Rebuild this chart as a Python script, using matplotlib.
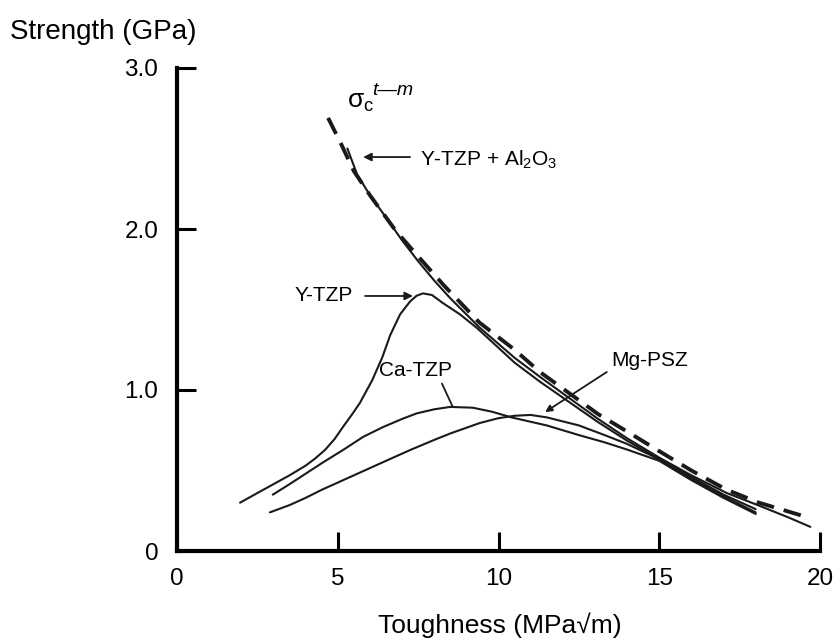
import matplotlib
matplotlib.use("Agg")
import matplotlib.pyplot as plt

plt.rcParams['font.family'] = ['Liberation Sans', 'DejaVu Sans']
plt.rcParams['mathtext.fontset'] = 'custom'
plt.rcParams['mathtext.rm'] = 'Liberation Sans'
plt.rcParams['mathtext.it'] = 'Liberation Sans:italic'

# critical transformation stress (dashed)
sigc_k = [4.7, 5.1, 5.5, 6.0, 6.8, 7.5, 8.3, 9.4, 10.5, 11.3, 12.2, 13.1, 14.1, 15.0, 16.0, 17.1, 18.1, 19.6]
sigc_s = [2.69, 2.53, 2.36, 2.21, 1.99, 1.83, 1.65, 1.42, 1.25, 1.11, 0.98, 0.85, 0.73, 0.62, 0.50, 0.38, 0.30, 0.21]

# Y-TZP + Al2O3
yal_k = [5.3, 5.6, 6.0, 6.4, 7.0, 7.5, 8.0, 8.5, 9.4, 10.5, 11.3, 12.2, 13.1, 14.0, 15.0, 16.0, 17.1, 18.0, 19.0, 19.7]
yal_s = [2.50, 2.34, 2.21, 2.10, 1.93, 1.80, 1.68, 1.57, 1.39, 1.20, 1.08, 0.95, 0.82, 0.70, 0.58, 0.47, 0.36, 0.29, 0.21, 0.15]

# Y-TZP
ytzp_k = [1.96, 2.5, 3.0, 3.5, 4.0, 4.3, 4.6, 4.9, 5.16, 5.45, 5.69, 6.07, 6.38, 6.63, 6.94, 7.25, 7.45, 7.65, 7.93,
          8.27, 8.8, 9.33, 10.5, 11.3, 12.2, 13.1, 14.0, 15.0, 16.0, 17.0, 18.0]
ytzp_s = [0.30, 0.36, 0.415, 0.47, 0.53, 0.575, 0.627, 0.695, 0.77, 0.85, 0.92, 1.06, 1.20, 1.34, 1.47, 1.55, 1.585, 1.60, 1.59,
          1.54, 1.47, 1.385, 1.17, 1.05, 0.925, 0.80, 0.685, 0.57, 0.46, 0.35, 0.26]

# Ca-TZP
ca_k = [2.98, 3.5, 4.0, 4.5, 5.16, 5.8, 6.41, 7.0, 7.46, 8.0, 8.5, 9.2, 9.8, 10.4, 11.5, 12.5, 13.3, 14.0, 15.0, 16.0, 17.0, 18.0]
ca_s = [0.35, 0.415, 0.48, 0.545, 0.627, 0.71, 0.77, 0.82, 0.855, 0.88, 0.895, 0.89, 0.865, 0.83, 0.78, 0.72, 0.675, 0.63, 0.56, 0.44, 0.33, 0.23]

# Mg-PSZ
mg_k = [2.89, 3.5, 4.0, 4.5, 5.5, 6.5, 7.25, 8.0, 8.5, 9.42, 10.0, 10.5, 11.0, 11.5, 12.5, 13.3, 14.0, 15.0, 16.0, 17.0, 18.0]
mg_s = [0.24, 0.285, 0.33, 0.38, 0.47, 0.56, 0.627, 0.69, 0.73, 0.795, 0.825, 0.84, 0.845, 0.83, 0.78, 0.72, 0.665, 0.57, 0.45, 0.34, 0.24]

xticks = [0, 5, 10, 15, 20]
yticks = [0, 1, 2, 3]
ytick_labels = ['0', '1.0', '2.0', '3.0']

W, H = 837, 639
fig = plt.figure(figsize=(W / 100, H / 100), dpi=100)
ax = fig.add_axes([177 / W, 1 - 551 / H, (820 - 177) / W, (551 - 68) / H])
ax.set_xlim(0, 20)
ax.set_ylim(0, 3)

ink = '#1a1a1a'
ax.plot(sigc_k, sigc_s, color=ink, lw=2.8, dashes=(4.6, 2.6), solid_capstyle='butt')
for k, s in [(yal_k, yal_s), (ytzp_k, ytzp_s), (ca_k, ca_s), (mg_k, mg_s)]:
    ax.plot(k, s, color=ink, lw=1.5, solid_capstyle='round', solid_joinstyle='round')

for side in ['top', 'right']:
    ax.spines[side].set_visible(False)
for side in ['left', 'bottom']:
    ax.spines[side].set_linewidth(3)
    ax.spines[side].set_color('black')

ax.set_xticks(xticks)
ax.set_xticklabels([str(t) for t in xticks])
ax.set_yticks(yticks)
ax.set_yticklabels(ytick_labels)
ax.tick_params(direction='in', length=14, width=2.2, labelsize=17.5, colors='black')
ax.tick_params(axis='y', pad=13.5)
ax.tick_params(axis='x', pad=12)

fig.text(10 / W, 1 - 32 / H, 'Strength (GPa)', fontsize=20, ha='left', va='center')
fig.text(500 / W, 1 - 625 / H, 'Toughness (MPa\u221am)', fontsize=19, ha='center', va='center')

# sigma_c with its t-m superscript
ax.text(5.29, 2.75, r'$\mathrm{\sigma}_\mathrm{c}$', fontsize=19, ha='left', va='baseline')
ax.text(6.08, 2.83, 't\u2014m', fontsize=14, style='italic', ha='left', va='baseline')

afs = 15
arrow = dict(arrowstyle='-|>', color=ink, lw=1.3, mutation_scale=12, shrinkA=0, shrinkB=0)
ax.annotate('', xy=(5.79, 2.447), xytext=(7.25, 2.447), arrowprops=arrow)
ax.text(7.56, 2.43, r'Y-TZP + Al$_2$O$_3$', fontsize=afs, ha='left', va='center')

ax.annotate('', xy=(7.34, 1.584), xytext=(5.85, 1.584), arrowprops=arrow)
ax.text(5.47, 1.584, 'Y-TZP', fontsize=afs, ha='right', va='center')

ax.annotate('', xy=(8.58, 0.894), xytext=(8.24, 1.04),
            arrowprops=dict(arrowstyle='-', color=ink, lw=1.3, shrinkA=0, shrinkB=0))
ax.text(7.43, 1.124, 'Ca-TZP', fontsize=afs, ha='center', va='center')

ax.annotate('', xy=(11.45, 0.863), xytext=(13.37, 1.112),
            arrowprops=dict(arrowstyle='-|>', color=ink, lw=1.3, mutation_scale=10,
                            shrinkA=0, shrinkB=0))
ax.text(14.71, 1.186, 'Mg-PSZ', fontsize=afs, ha='center', va='center')

fig.savefig('out.png', dpi=100)
